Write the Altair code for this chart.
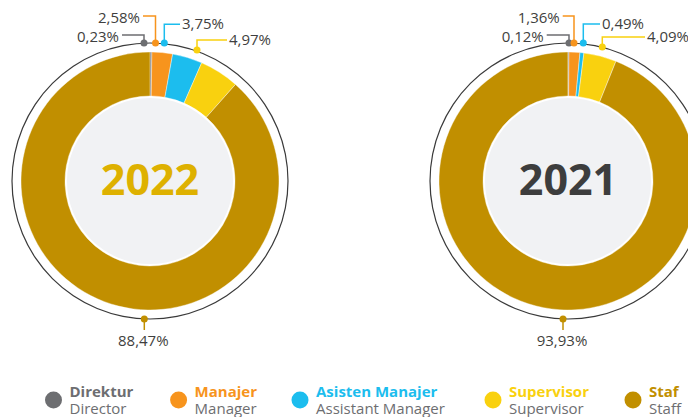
import math
import altair as alt
import pandas as pd

# ---------------- data ----------------
categories = ["Direktur", "Manajer", "Asisten Manajer", "Supervisor", "Staf"]
categories_en = ["Director", "Manager", "Assistant Manager", "Supervisor", "Staff"]
colors = ["#6D6E71", "#F7941D", "#1CBDEE", "#F9D10F", "#C18F00"]
years = ["2022", "2021"]
values_2022 = [0.23, 2.58, 3.75, 4.97, 88.47]
values_2021 = [0.12, 1.36, 0.49, 4.09, 93.93]
values_by_year = {"2022": values_2022, "2021": values_2021}
year_colors = {"2022": "#DEB100", "2021": "#3D3D3D"}

# ---------------- layout (page pixels) ----------------
W, H = 680, 409
CENTERS = {"2022": (150, 181), "2021": (568, 181)}
R_OUT, R_IN, R_DISK, R_RING = 129, 85, 83, 138
# leader per category: dot offset from centre (dx, dy), elbow y, end x (None = vertical only)
LEADERS = {
    "2022": [(-6, -138, 35, 122), (5.5, -138, 16, 143), (14.3, -138, 24.3, 180),
             (47, -131, 40, 227), (-5.7, 138, 330, None)],
    "2021": [(1, -138, 35, 546.7), (6, -138, 16, 562.7), (15.3, -138, 24, 600),
             (34.3, -134, 37, 645), (-5, 138, 330, None)],
}
LEGEND_X = [53.5, 178.6, 300, 493, 633]
LEGEND_Y = 400
FONT = "Open Sans"

xs = alt.Scale(domain=[8, 8 + W], range=[0, W], nice=False, zero=False)
ys = alt.Scale(domain=[8, 8 + H], range=[0, H], nice=False, zero=False)
cscale = alt.Scale(domain=categories, range=colors)


def fmt(v):
    return f"{v:.2f}".replace(".", ",") + "%"


arc_rows, center_rows, dot_rows, line_rows, label_rows = [], [], [], [], []
for yr in years:
    cx, cy = CENTERS[yr]
    center_rows.append({"year": yr, "cx": cx, "cy": cy})
    cum = 0.0
    for i, (cat, v) in enumerate(zip(categories, values_by_year[yr])):
        arc_rows.append({"year": yr, "cat": cat, "start": cum, "end": cum + v, "cx": cx, "cy": cy})
        cum += v
        dx, dy, ey, ex = LEADERS[yr][i]
        px, py = cx + dx, cy + dy
        dot_rows.append({"cat": cat, "x": px, "y": py})
        key = f"{yr}-{cat}"
        pts = [(px, py), (px, ey)] + ([(ex, ey)] if ex is not None else [])
        for k, (lx, ly) in enumerate(pts):
            line_rows.append({"key": key, "cat": cat, "o": k, "x": lx, "y": ly})
        if ex is None:
            label_rows.append({"text": fmt(v), "x": px - 1, "y": ey + 11, "align": "center"})
        elif ex < px:
            label_rows.append({"text": fmt(v), "x": ex - 3, "y": ey + 1.5, "align": "right"})
        else:
            label_rows.append({"text": fmt(v), "x": ex + 2, "y": ey - 0.5, "align": "left"})

arcs = pd.DataFrame(arc_rows)
centers = pd.DataFrame(center_rows)
dots = pd.DataFrame(dot_rows)
lines = pd.DataFrame(line_rows)
labels = pd.DataFrame(label_rows)
legend = pd.DataFrame({"cat": categories, "en": categories_en, "mx": LEGEND_X})
legend["tx"] = legend["mx"] + 16
legend["my"] = LEGEND_Y
legend["ty1"] = LEGEND_Y - 8
legend["ty2"] = LEGEND_Y + 8.5

cx_enc = alt.X("cx:Q", scale=xs, axis=None)
cy_enc = alt.Y("cy:Q", scale=ys, axis=None)

ring = alt.Chart(centers).mark_arc(
    radius=R_RING + 0.6, innerRadius=R_RING - 0.6, theta=0, theta2=2 * math.pi,
    color="#3A3A3A"
).encode(x=cx_enc, y=cy_enc)

donut = alt.Chart(arcs).mark_arc(
    radius=R_OUT, innerRadius=R_IN, stroke="white", strokeWidth=0.4
).encode(
    x=cx_enc, y=cy_enc,
    theta=alt.Theta("start:Q", scale=alt.Scale(domain=[0, 100], range=[0, 2 * math.pi])),
    theta2="end:Q",
    color=alt.Color("cat:N", scale=cscale, legend=None),
)

disk = alt.Chart(centers).mark_arc(
    radius=R_DISK, theta=0, theta2=2 * math.pi, color="#F1F2F4"
).encode(x=cx_enc, y=cy_enc)

year_text = alt.Chart(centers).mark_text(
    font=FONT, fontSize=43, fontWeight="bold", baseline="middle", align="center", dy=1
).encode(
    x=cx_enc, y=cy_enc, text="year:N",
    color=alt.condition("datum.year == '2022'", alt.value(year_colors["2022"]), alt.value(year_colors["2021"])),
)

leader_lines = alt.Chart(lines).mark_line(strokeWidth=1.5).encode(
    x=alt.X("x:Q", scale=xs, axis=None), y=alt.Y("y:Q", scale=ys, axis=None),
    detail="key:N", order="o:Q",
    color=alt.Color("cat:N", scale=cscale, legend=None),
)

leader_dots = alt.Chart(dots).mark_circle(size=49, opacity=1).encode(
    x=alt.X("x:Q", scale=xs, axis=None), y=alt.Y("y:Q", scale=ys, axis=None),
    color=alt.Color("cat:N", scale=cscale, legend=None),
)

label_layers = []
for al in ["left", "right", "center"]:
    label_layers.append(
        alt.Chart(labels).transform_filter(f"datum.align == '{al}'").mark_text(
            font=FONT, fontSize=15, align=al, baseline="middle", color="#3F3F40"
        ).encode(
            x=alt.X("x:Q", scale=xs, axis=None), y=alt.Y("y:Q", scale=ys, axis=None), text="text:N"
        )
    )

leg_markers = alt.Chart(legend).mark_circle(size=289, opacity=1).encode(
    x=alt.X("mx:Q", scale=xs, axis=None), y=alt.Y("my:Q", scale=ys, axis=None),
    color=alt.Color("cat:N", scale=cscale, legend=None),
)
leg_titles = alt.Chart(legend).mark_text(
    font=FONT, fontSize=15, fontWeight="bold", align="left", baseline="middle"
).encode(
    x=alt.X("tx:Q", scale=xs, axis=None), y=alt.Y("ty1:Q", scale=ys, axis=None), text="cat:N",
    color=alt.Color("cat:N", scale=cscale, legend=None),
)
leg_sub = alt.Chart(legend).mark_text(
    font=FONT, fontSize=15, align="left", baseline="middle", color="#6D6E71"
).encode(
    x=alt.X("tx:Q", scale=xs, axis=None), y=alt.Y("ty2:Q", scale=ys, axis=None), text="en:N"
)

chart = alt.layer(
    ring, donut, disk, year_text, leader_lines, leader_dots, *label_layers,
    leg_markers, leg_titles, leg_sub
).properties(
    width=W, height=H, autosize=alt.AutoSizeParams(type="none"), padding=0,
    background="white"
).configure_view(stroke=None, strokeWidth=0)

chart.save("out.html", embed_options={"renderer": "svg", "actions": False})
